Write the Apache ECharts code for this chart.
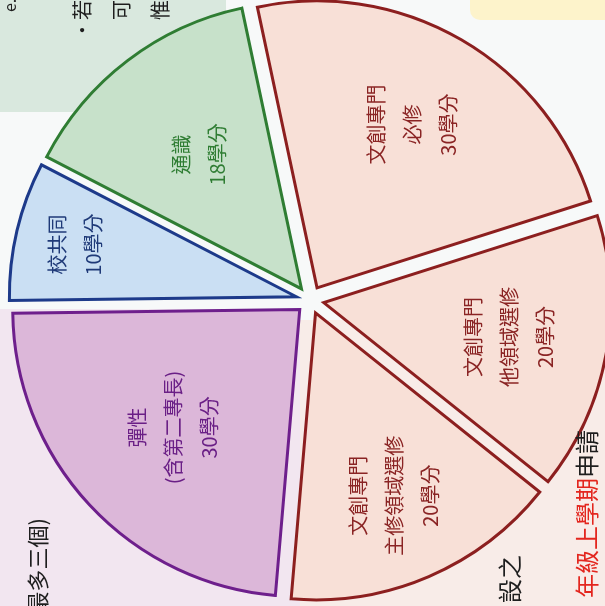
<!DOCTYPE html>
<html>
<head>
<meta charset="utf-8">
<script src="https://cdn.jsdelivr.net/npm/echarts@6/dist/echarts.min.js"></script>
<style>
html, body { margin: 0; padding: 0; background: #f7f9f9; }
#main { width: 605px; height: 606px; }
</style>
</head>
<body>
<div id="main"></div>
<script>
// 學分分配 (按順時針方向，從頂部開始)
const categories = [
  '文創專門\n必修\n30學分',
  '文創專門\n他領域選修\n20學分',
  '文創專門\n主修領域選修\n20學分',
  '彈性\n(含第二專長)\n30學分',
  '校共同\n10學分',
  '通識\n18學分'
];
const credits = [30, 20, 20, 30, 10, 18];

// styles
const fills = ['#f8e0d7', '#f8e0d7', '#f8e0d7', '#dcb7d9', '#cadff3', '#c7e1ca'];
const borders = ['#8c1f1f', '#8c1f1f', '#8c1f1f', '#6e1f8c', '#1d3a8a', '#2f7d33'];
const textColors = ['#8a2424', '#8a2424', '#8a2424', '#6a1f86', '#1f3a78', '#2f7d33'];
// label distance from centre for each slice
const labelRadius = [186, 186, 196, 170, 224, 166];

const CENTER = [310, 300];
const START = 102;
const OFFSET = 14;

const myChart = echarts.init(document.getElementById('main'));

const pieData = categories.map((name, i) => ({
  name: name,
  value: credits[i],
  selected: true,
  itemStyle: { color: fills[i], borderColor: borders[i] },
  select: { itemStyle: { color: fills[i], borderColor: borders[i], borderWidth: 3 } }
}));

// one transparent ring per slice, only used to place that slice's label
const labelSeries = categories.map((name, k) => ({
  type: 'pie',
  center: CENTER,
  radius: [labelRadius[k] - 60, labelRadius[k] + 60],
  startAngle: START,
  selectedMode: 'multiple',
  selectedOffset: OFFSET,
  silent: true,
  z: 5,
  itemStyle: { color: 'rgba(0,0,0,0)', borderWidth: 0 },
  select: { itemStyle: { color: 'rgba(0,0,0,0)', borderWidth: 0 } },
  labelLine: { show: false },
  label: {
    position: 'inside',
    rotate: 90,
    fontFamily: 'Noto Sans CJK TC',
    fontSize: 20,
    lineHeight: 36,
    align: 'center'
  },
  data: categories.map((n, i) => ({
    name: n,
    value: credits[i],
    selected: true,
    label: { show: i === k, color: textColors[i] }
  }))
}));

const bgText = (txt, x, y, align, size) => ({
  type: 'text', x: x, y: y, rotation: Math.PI / 2, z: 10,
  style: {
    text: txt, fill: '#1e1e1e', font: size + 'px "Noto Sans CJK TC"',
    align: align, verticalAlign: 'middle'
  }
});

const option = {
  animation: false,
  backgroundColor: '#f7f9f9',
  graphic: [
    { type: 'rect', z: 0, shape: { x: 0, y: 0, width: 226, height: 112 }, style: { fill: '#d9e8de' } },
    { type: 'rect', z: 0, shape: { x: 0, y: 309, width: 300, height: 300 }, style: { fill: '#f2e6f0' } },
    { type: 'rect', z: 0, shape: { x: 300, y: 320, width: 310, height: 290 }, style: { fill: '#f8ece8' } },
    { type: 'rect', z: 0, shape: { x: 470, y: -20, width: 150, height: 40, r: 10 }, style: { fill: '#fdf3cb' } },
    bgText('e.', 10, 12, 'left', 16),
    bgText('・若', 82, 40, 'left', 20),
    bgText('可', 121, 20, 'left', 20),
    bgText('惟', 160, 20, 'left', 20),
    bgText('(最多三個)', 38, 518, 'right', 22),
    bgText('設之', 510, 555, 'right', 24),
    {
      type: 'text', x: 587, y: 430, rotation: Math.PI / 2, z: 10,
      style: {
        text: '{r|年級上學期}{k|申請}', align: 'right', verticalAlign: 'middle',
        rich: {
          r: { fill: '#e3261e', font: '24px "Noto Sans CJK TC"' },
          k: { fill: '#1e1e1e', font: '24px "Noto Sans CJK TC"' }
        }
      }
    }
  ],
  series: [
    {
      type: 'pie',
      center: CENTER,
      radius: [0, 287],
      startAngle: START,
      selectedMode: 'multiple',
      selectedOffset: OFFSET,
      silent: true,
      itemStyle: { borderWidth: 3, borderJoin: 'miter' },
      label: { show: false },
      labelLine: { show: false },
      data: pieData
    }
  ].concat(labelSeries)
};

myChart.setOption(option);
</script>
</body>
</html>
